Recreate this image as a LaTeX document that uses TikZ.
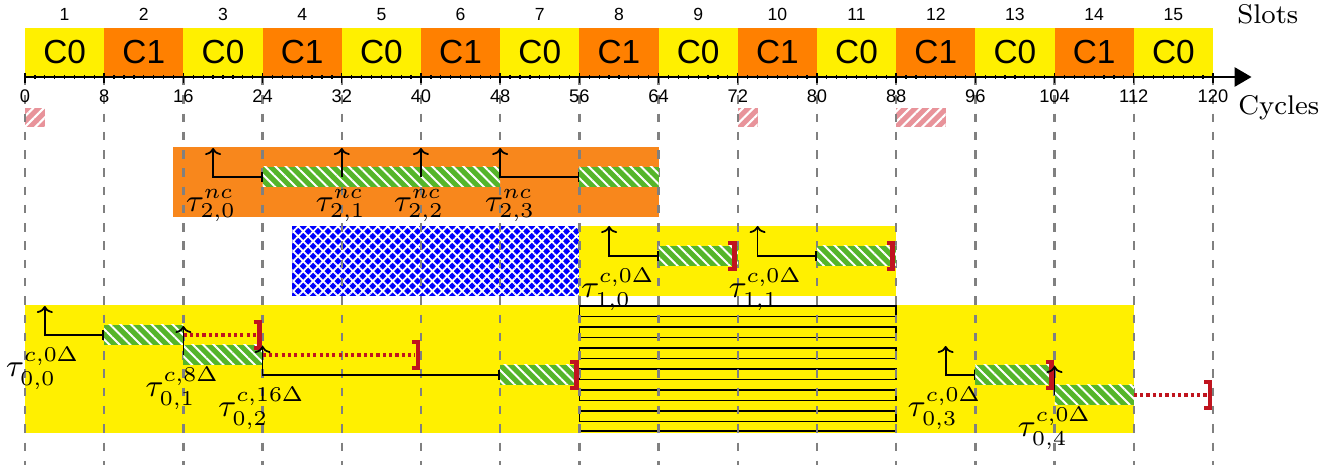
\documentclass[tikz,border=0pt]{standalone}
\usepackage{fontspec}
\setsansfont{Liberation Sans}
\usetikzlibrary{arrows.meta, patterns.meta, positioning}
\definecolor{slotyellow}{HTML}{FFF000}
\definecolor{slotorange}{HTML}{FF8000}
\definecolor{bandorange}{HTML}{F8871C}
\definecolor{blockblue}{HTML}{0000FF}
\definecolor{execgreen}{HTML}{55B52A}
\definecolor{idlepink}{HTML}{E8939A}
\definecolor{dlred}{HTML}{C0141E}

\begin{document}
\begin{tikzpicture}[
    x=0.99mm, y=1mm,
    slot/.style={rectangle, inner sep=0pt, outer sep=0pt, minimum width=7.92mm, minimum height=4.9mm, font=\sffamily\fontsize{9.5}{10}\selectfont},
    slotnum/.style={font=\sffamily\fontsize{5}{6}\selectfont, inner sep=0pt},
    ticklabel/.style={font=\sffamily\fontsize{5.2}{6}\selectfont, inner sep=0pt},
    axislabel/.style={font=\fontsize{7.7}{9}\selectfont, inner sep=0pt, anchor=base west},
    idle/.style={fill=idlepink, postaction={pattern={Lines[angle=45, distance=2.1pt, line width=0.6pt]}, pattern color=white}},
    exec/.style={fill=execgreen, postaction={pattern={Lines[angle=-45, distance=2.1pt, line width=0.55pt]}, pattern color=white}},
    blocked/.style={fill=blockblue, postaction={pattern={Hatch[angle=45, distance=2pt, line width=0.5pt]}, pattern color=white}},
    slotgrid/.style={gray, line width=0.65pt, dash pattern=on 2.4pt off 2.8pt},
    arr/.style={line width=0.5pt, {Computer Modern Rightarrow[length=0.7mm, width=1.6mm]}-},
    waitline/.style={line width=0.5pt, {Computer Modern Rightarrow[length=0.7mm, width=1.6mm]}-{Bar[width=1mm]}},
    slack/.style={dlred, line width=1.2pt, dash pattern=on 0.9pt off 0.9pt},
    deadline/.style={dlred, line width=1.3pt},
    dlbracket/.pic={\draw[deadline] (-0.6,1.3) -- (0,1.3) -- (0,-1.3) -- (-0.6,-1.3);},
    tasklabel/.style={below, font=\small}
]
\useasboundingbox (-2.525,7.7) rectangle (132.63,-38.8);

% Slots
\foreach \s [count=\n] in {0,8,...,112}{
    \ifodd\n \def\slotcol{slotyellow}\def\core{C0}\else \def\slotcol{slotorange}\def\core{C1}\fi
    \node[slot, fill=\slotcol] (slot\n) at (\s+4,2.45) {\core};
    \node[slotnum] (num\n) at (\s+4,6.25) {\n};
}

% Idle marks
\fill[idle] (0,-3.1) rectangle (2,-5);
\fill[idle] (72,-3.1) rectangle (74,-5);
\fill[idle] (88,-3.1) rectangle (93,-5);

% Bands
\fill[bandorange] (15,-7) rectangle (64,-14);
\fill[blocked] (27,-14.9) rectangle (56,-21.9);
\fill[slotyellow] (56,-14.9) rectangle (88,-21.9);
\fill[slotyellow] (0,-22.8) rectangle (112,-35.6);
\foreach \y in {-22.9,-25,-27.1,-29.2,-31.3,-33.4}
    \draw[line width=0.5pt] (56,\y) rectangle (88,\y-1.05);
\draw[line width=0.5pt] (56,-35.4) -- (88,-35.4);

% Grid and axis
\foreach \t in {0,8,...,120}
    \draw[slotgrid] (\t,0) -- (\t,-38.8);
\foreach \t in {0,...,120}
    \draw[line width=0.35pt] (\t,0.2) -- (\t,-0.2);
\foreach \t in {0,8,...,120}{
    \draw[line width=0.4pt] (\t,0.35) -- (\t,-0.6);
    \node[ticklabel] (tick\t) at (\t,-1.9) {\t};
}
\draw[thick, -{Triangle[length=1.7mm, width=1.9mm]}] (0,0) -- (123.9,0);
\node[axislabel] (slots) at (122.4,5.3) {Slots};
\node[axislabel] (cycles) at (122.5,-3.8) {Cycles};

% Core 1, non-critical task
\fill[exec] (24,-9) rectangle (48,-11);
\fill[exec] (56,-9) rectangle (64,-11);
\draw[waitline] (19,-7.1) |- (24,-10);
\draw[arr] (32,-7.1) -- (32,-10);
\draw[arr] (40,-7.1) -- (40,-10);
\draw[waitline] (48,-7.1) |- (56,-10);
\node[tasklabel] (t20) at (18.8,-10) {$\tau^{nc}_{2,0}$};
\node[tasklabel] (t21) at (31.9,-10) {$\tau^{nc}_{2,1}$};
\node[tasklabel] (t22) at (39.8,-10) {$\tau^{nc}_{2,2}$};
\node[tasklabel] (t23) at (49,-10) {$\tau^{nc}_{2,3}$};

% Core 0, task 1
\fill[exec] (64,-16.9) rectangle (72,-18.9);
\fill[exec] (80,-16.9) rectangle (88,-18.9);
\draw[waitline] (59,-14.9) |- (64,-17.9);
\draw[waitline] (74,-14.9) |- (80,-17.9);
\pic at (71.65,-17.9) {dlbracket};
\pic at (87.65,-17.9) {dlbracket};
\node[tasklabel] (t10) at (59.9,-17.9) {$\tau^{c,0\Delta}_{1,0}$};
\node[tasklabel] (t11) at (74.8,-17.9) {$\tau^{c,0\Delta}_{1,1}$};

% Core 0, task 0
\fill[exec] (8,-24.8) rectangle (16,-26.8);
\fill[exec] (16,-26.8) rectangle (24,-28.8);
\fill[exec] (48,-28.8) rectangle (56,-30.8);
\fill[exec] (96,-28.8) rectangle (104,-30.8);
\fill[exec] (104,-30.8) rectangle (112,-32.8);
\draw[waitline] (2,-22.9) |- (8,-25.8);
\draw[slack] (16,-25.8) -- (23.4,-25.8);
\pic at (23.7,-25.8) {dlbracket};
\draw[arr] (16,-24.9) -- (16,-27.8);
\draw[slack] (24,-27.8) -- (39.4,-27.8);
\pic at (39.7,-27.8) {dlbracket};
\draw[waitline] (24,-26.9) |- (48,-29.8);
\pic at (55.7,-29.8) {dlbracket};
\draw[waitline] (93,-26.9) |- (96,-29.8);
\pic at (103.7,-29.8) {dlbracket};
\draw[arr] (104,-28.9) -- (104,-31.8);
\draw[slack] (112,-31.8) -- (119.4,-31.8);
\pic at (119.7,-31.8) {dlbracket};
\node[tasklabel] (t00) at (1.8,-25.8) {$\tau^{c,0\Delta}_{0,0}$};
\node[tasklabel] (t01) at (15.9,-27.8) {$\tau^{c,8\Delta}_{0,1}$};
\node[tasklabel] (t02) at (23.9,-29.8) {$\tau^{c,16\Delta}_{0,2}$};
\node[tasklabel] (t03) at (92.9,-29.8) {$\tau^{c,0\Delta}_{0,3}$};
\node[tasklabel] (t04) at (104,-31.8) {$\tau^{c,0\Delta}_{0,4}$};
\end{tikzpicture}
\end{document}
